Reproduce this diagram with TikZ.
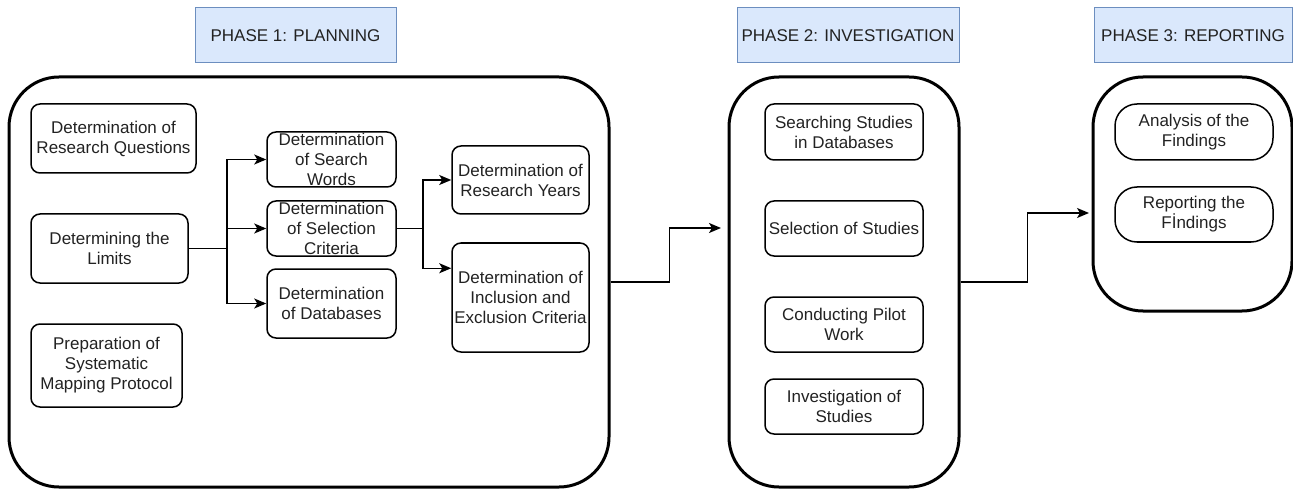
\documentclass[tikz,border=0pt]{standalone}
\usepackage{fontspec}
\setmainfont{Liberation Sans}
\usetikzlibrary{arrows.meta}
\definecolor{hfill}{HTML}{DAE8FC}
\definecolor{hline}{HTML}{6C8EBF}
\definecolor{txt}{HTML}{222222}
\begin{document}
\begin{tikzpicture}[x=1pt,y=-1pt, font=\fontsize{17}{20}\selectfont, text=txt,
  phase/.style={draw=hline, fill=hfill, line width=1pt, minimum height=55pt, inner sep=0pt},
  stage/.style={draw, line width=3pt, rounded corners=50pt, inner sep=0pt},
  item/.style={draw, line width=1.5pt, rounded corners=9pt, align=center, inner sep=0pt},
  pill/.style={item, rounded corners=22pt},
  arr/.style={line width=1.5pt, -{Stealth[length=12pt,width=10pt,inset=3pt]}},
  link/.style={line width=1.5pt}]
\useasboundingbox (0,0) rectangle (1293,489);

% phase headers
\node[phase, minimum width=201pt] (h1) at (295.5,35.5) {PHASE 1: PLANNING};
\node[phase, minimum width=222pt] (h2) at (848,35.5) {PHASE 2: INVESTIGATION};
\node[phase, minimum width=198pt] (h3) at (1193,35.5) {PHASE 3: REPORTING};

% stage containers
\node[stage, minimum width=600pt, minimum height=410pt] (B1) at (309,282) {};
\node[stage, minimum width=230pt, minimum height=410pt] (B2) at (844,282) {};
\node[stage, minimum width=199pt, minimum height=234pt] (B3) at (1192.5,194) {};

% phase 1 items
\node[item, minimum width=165pt, minimum height=69pt] (RQ) at (113.5,138.5) {Determination of\\Research Questions};
\node[item, minimum width=157pt, minimum height=69pt] (L) at (109.5,248.5) {Determining the\\Limits};
\node[item, minimum width=151pt, minimum height=83pt] (P) at (106.5,365.5) {Preparation of\\Systematic\\Mapping Protocol};
\node[item, minimum width=129pt, minimum height=55pt] (SW) at (331.5,159.5) {Determination\\of Search\\Words};
\node[item, minimum width=129pt, minimum height=55pt] (SC) at (331.5,228.5) {Determination\\of Selection\\Criteria};
\node[item, minimum width=129pt, minimum height=69pt] (DB) at (331.5,303.5) {Determination\\of Databases};
\node[item, minimum width=137pt, minimum height=68pt] (RY) at (520.5,180) {Determination of\\Research Years};
\node[item, minimum width=137pt, minimum height=109pt] (IE) at (520.5,297.5) {Determination of\\Inclusion and\\Exclusion Criteria};

% phase 2 items
\node[item, minimum width=158pt, minimum height=56pt] (S1) at (844,132) {Searching Studies\\in Databases};
\node[item, minimum width=158pt, minimum height=55pt] (S2) at (844,228.5) {Selection of Studies};
\node[item, minimum width=158pt, minimum height=55pt] (S3) at (844,324.5) {Conducting Pilot\\Work};
\node[item, minimum width=158pt, minimum height=55pt] (S4) at (844,406.5) {Investigation of\\Studies};

% phase 3 items
\node[pill, minimum width=158pt, minimum height=56pt] (R1) at (1194,132) {Analysis of the\\Findings};
\node[pill, minimum width=158pt, minimum height=55pt] (R2) at (1194,214.5) {Reporting the\\Fİndings};

% connectors inside phase 1
\coordinate (j1) at (227,248.5);
\draw[link] (L.east) -- (j1);
\draw[arr] (j1) |- (SW.west);
\draw[arr] (j1) |- (SC.west);
\draw[arr] (j1) |- (DB.west);
\coordinate (j2) at (423,228.5);
\draw[link] (SC.east) -- (j2);
\draw[arr] (j2) |- (RY.west);
\draw[arr] (j2) |- ([yshift=-26pt]IE.north west);

% connectors between phases
\coordinate (t2) at (721,228);
\draw[arr] (B1.east) -- ++(59,0) |- (t2);
\coordinate (t3) at (1089,213);
\draw[arr] (B2.east) -- ++(67,0) |- (t3);
\end{tikzpicture}
\end{document}
